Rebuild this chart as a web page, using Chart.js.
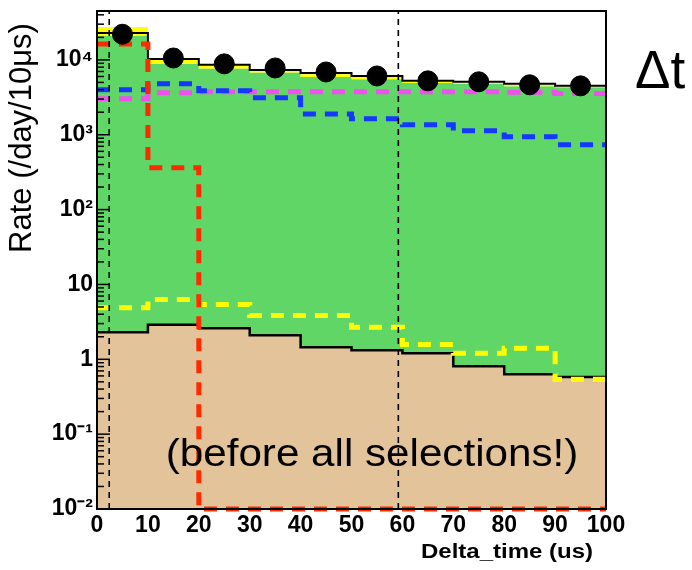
<!DOCTYPE html>
<html>
<head>
<meta charset="utf-8">
<script src="https://cdn.jsdelivr.net/npm/chart.js@4.4.1/dist/chart.umd.min.js"></script>
<style>
  html, body { margin: 0; padding: 0; background: #fff; }
  #wrap { width: 692px; height: 570px; position: relative; }
</style>
</head>
<body>
<div id="wrap"><canvas id="rate-chart" width="692" height="570"></canvas></div>
<script>
// bin edges (us) and bin centres
const edges = [0, 10, 20, 30, 40, 50, 60, 70, 80, 90, 100];
const binCenters = [5, 15, 25, 35, 45, 55, 65, 75, 85, 95];

// measured rate (black points)
const dataRate = [22000, 10600, 8850, 7800, 6900, 6100, 5250, 5100, 4650, 4500];
// total MC (black line)
const totalLine = [22800, 10300, 8600, 7350, 6700, 6100, 5250, 5100, 4800, 4500];
// stacked fills: yellow top, green top, tan top
const yellowStack = [27500, 10000, 8400, 7150, 6450, 5900, 5100, 4950, 4650, 4400];
const greenStack = [21000, 8900, 7700, 6800, 5900, 5500, 4900, 4800, 4450, 4300];
const tanStack = [2.3, 2.9, 2.6, 2.1, 1.45, 1.32, 1.2, 0.81, 0.63, 0.58];
// dashed components
const redCurve = [16300, 363, 0.01, 0.01, 0.01, 0.01, 0.01, 0.01, 0.01, 0.01];
const blueCurve = [3980, 4790, 3860, 3110, 1900, 1630, 1360, 1130, 940, 735];
const magentaCurve = [3020, 3630, 3750, 3750, 3750, 3750, 3750, 3750, 3700, 3550];
const yellowCurve = [4.9, 6.3, 5.4, 3.86, 3.86, 2.67, 1.58, 1.2, 1.4, 0.54];

const yTicks = [0.01, 0.1, 1, 10, 100, 1000, 10000];
const yTickLabels = ['10\u207B\u00B2', '10\u207B\u00B9', '1', '10', '10\u00B2', '10\u00B3', '10\u2074'];
const cutLines = [2.4, 59.2];

// histogram helper: one point per edge, last bin value repeated at the end
function hist(vals) {
    return edges.map((x, i) => ({ x: x, y: vals[Math.min(i, vals.length - 1)] }));
}

const font = "'Liberation Sans', Arial, sans-serif";

// draw text squeezed/stretched horizontally
function wideText(ctx, txt, x, y, sx) {
    ctx.save();
    ctx.translate(x, y);
    ctx.scale(sx, 1);
    ctx.fillText(txt, 0, 0);
    ctx.restore();
}

// frame, inner log ticks, cut lines and texts
const extras = {
    id: 'extras',
    afterDatasetsDraw(chart) {
        const { ctx, chartArea: a, scales } = chart;
        const y = scales.y, x = scales.x;
        ctx.save();
        // cut lines
        ctx.strokeStyle = '#000';
        ctx.lineWidth = 1.6;
        ctx.setLineDash([6, 5]);
        cutLines.forEach(v => {
            const px = x.getPixelForValue(v);
            ctx.beginPath();
            ctx.moveTo(px, a.bottom);
            ctx.lineTo(px, a.top);
            ctx.stroke();
        });
        ctx.setLineDash([]);
        // minor ticks on log axis
        ctx.lineWidth = 1.5;
        for (let d = -2; d <= 4; d++) {
            for (let m = 1; m <= 9; m++) {
                const v = m * Math.pow(10, d);
                if (v > y.max) break;
                const py = y.getPixelForValue(v);
                ctx.beginPath();
                ctx.moveTo(a.left, py);
                ctx.lineTo(a.left + (m === 1 ? 13 : 7), py);
                ctx.stroke();
            }
        }
        // frame
        ctx.lineWidth = 2;
        ctx.strokeRect(a.left, a.top, a.right - a.left, a.bottom - a.top);
        // texts
        ctx.fillStyle = '#000';
        ctx.textBaseline = 'middle';
        ctx.textAlign = 'center';
        ctx.font = '38px ' + font;
        wideText(ctx, '(before all selections!)', 372, 456, 1.11);
        ctx.textBaseline = 'alphabetic';
        ctx.textAlign = 'left';
        ctx.font = '53px ' + font;
        ctx.fillText('\u0394t', 635, 88);
        // axis titles
        ctx.textAlign = 'right';
        ctx.font = 'bold 20px ' + font;
        wideText(ctx, 'Delta_time (us)', 593, 558, 1.2);
        ctx.save();
        ctx.translate(22, 138);
        ctx.rotate(-Math.PI / 2);
        ctx.textAlign = 'center';
        ctx.textBaseline = 'middle';
        ctx.font = '31px ' + font;
        ctx.fillText('Rate (/day/10\u03BCs)', 0, 0);
        ctx.restore();
        ctx.restore();
    }
};

new Chart(document.getElementById('rate-chart'), {
    type: 'line',
    data: {
        datasets: [
            {
                label: 'Data',
                type: 'scatter',
                data: binCenters.map((x, i) => ({ x: x, y: dataRate[i] })),
                pointRadius: 10,
                pointBackgroundColor: '#000',
                pointBorderColor: '#000',
                showLine: false,
                order: 0
            },
            {
                label: 'red',
                data: hist(redCurve),
                stepped: true,
                borderColor: '#ff2a00',
                borderWidth: 5,
                borderDash: [13, 9],
                pointRadius: 0,
                fill: false,
                clip: 4,
                order: 1
            },
            {
                label: 'blue',
                data: hist(blueCurve),
                stepped: true,
                borderColor: '#1438ff',
                borderWidth: 5,
                borderDash: [13, 9],
                pointRadius: 0,
                fill: false,
                order: 2
            },
            {
                label: 'magenta',
                data: hist(magentaCurve),
                stepped: true,
                borderColor: '#f050f0',
                borderWidth: 5,
                borderDash: [13, 9],
                pointRadius: 0,
                fill: false,
                order: 3
            },
            {
                label: 'yellow',
                data: hist(yellowCurve),
                stepped: true,
                borderColor: '#ffff00',
                borderWidth: 5,
                borderDash: [13, 9],
                pointRadius: 0,
                fill: false,
                order: 4
            },
            {
                label: 'total',
                data: hist(totalLine),
                stepped: true,
                borderColor: '#000',
                borderWidth: 2,
                pointRadius: 0,
                fill: false,
                order: 5
            },
            {
                label: 'yellowStack',
                data: hist(yellowStack),
                stepped: true,
                borderWidth: 0,
                borderColor: 'rgba(0,0,0,0)',
                backgroundColor: '#ffff00',
                pointRadius: 0,
                fill: 7,
                order: 8
            },
            {
                label: 'greenStack',
                data: hist(greenStack),
                stepped: true,
                borderWidth: 0,
                borderColor: 'rgba(0,0,0,0)',
                backgroundColor: '#5fd666',
                pointRadius: 0,
                fill: 8,
                order: 9
            },
            {
                label: 'tanStack',
                data: hist(tanStack),
                stepped: true,
                borderWidth: 2.5,
                borderColor: '#000',
                backgroundColor: '#e3c49a',
                pointRadius: 0,
                fill: 'start',
                order: 6
            }
        ]
    },
    options: {
        responsive: false,
        animation: false,
        events: [],
        layout: { padding: { top: 9, right: 86, left: 0, bottom: 0 } },
        plugins: {
            legend: { display: false },
            tooltip: { enabled: false }
        },
        scales: {
            x: {
                type: 'linear',
                min: 0,
                max: 100,
                grid: { display: false, drawTicks: false },
                border: { display: false },
                ticks: {
                    stepSize: 10,
                    color: '#000',
                    padding: 3,
                    maxRotation: 0,
                    autoSkip: false,
                    font: { family: font, size: 23, weight: 'bold' }
                },
                afterFit(s) { s.height = 61; s.paddingLeft = 0; s.paddingRight = 0; }
            },
            y: {
                type: 'logarithmic',
                min: 0.01,
                max: 45000,
                grid: { display: false, drawTicks: false },
                border: { display: false },
                afterBuildTicks(s) { s.ticks = yTicks.map(v => ({ value: v })); },
                ticks: {
                    color: '#000',
                    padding: 4,
                    autoSkip: false,
                    font: { family: font, size: 23, weight: 'bold' },
                    callback: (v) => {
                        const i = yTicks.findIndex(t => Math.abs(t - v) / t < 1e-6);
                        return i >= 0 ? yTickLabels[i] : '';
                    }
                },
                afterFit(s) { s.width = 97; s.paddingTop = 0; s.paddingBottom = 0; }
            }
        }
    },
    plugins: [extras]
});
</script>
</body>
</html>
